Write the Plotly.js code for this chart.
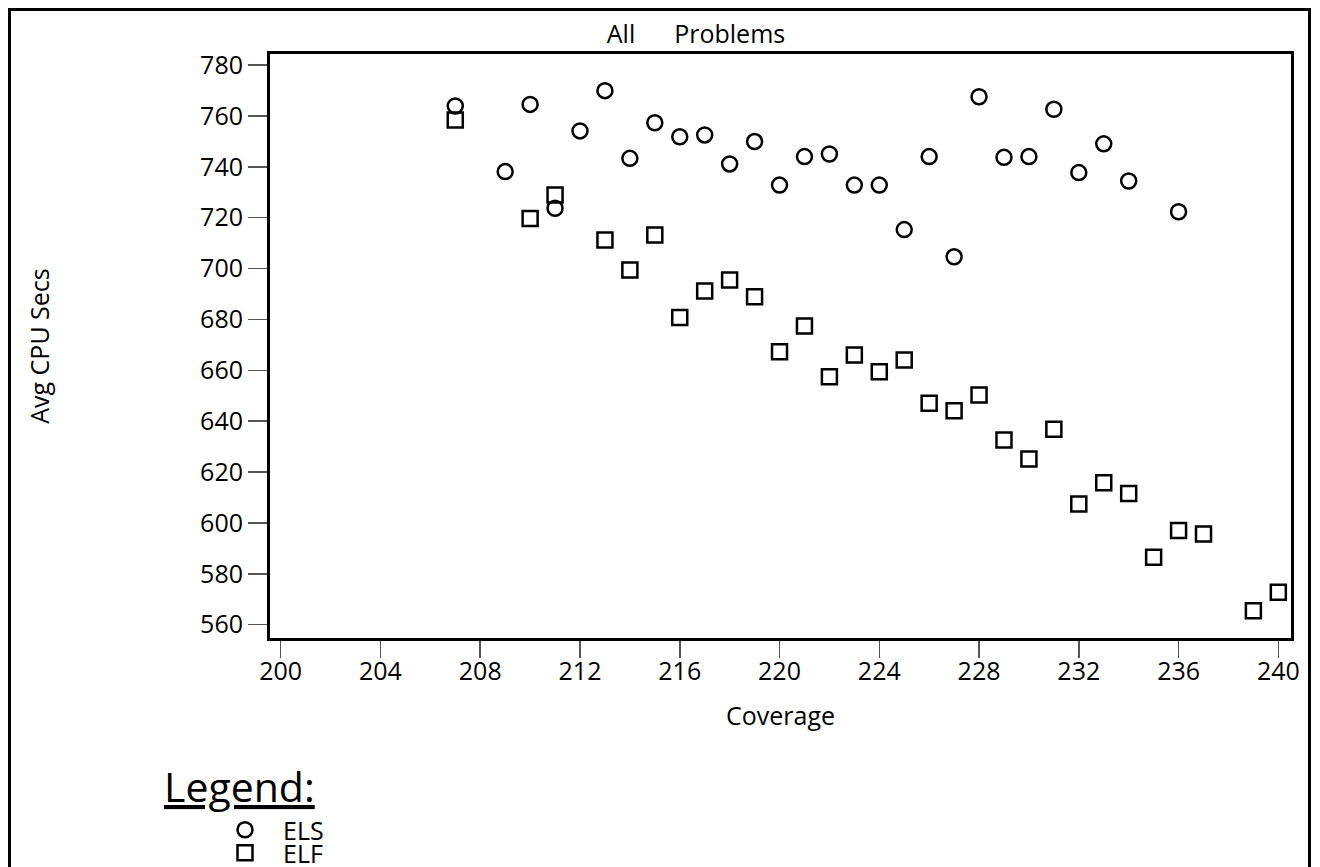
<!DOCTYPE html>
<html>
<head>
<meta charset="utf-8">
<script src="https://cdn.plot.ly/plotly-3.0.1.min.js"></script>
<style>
  html, body { margin: 0; padding: 0; background: #fff; overflow: hidden; }
  #chart { width: 1320px; height: 867px; }
  #frame {
    position: absolute; left: 8px; top: 8px; width: 1297px; height: 900px;
    border: 3px solid #000; pointer-events: none;
  }
</style>
</head>
<body>
<div id="chart"></div>
<div id="frame"></div>
<script>
// Coverage values and average CPU seconds for the two methods
const elsCoverage = [207, 209, 210, 211, 212, 213, 214, 215, 216, 217, 218, 219, 220, 221,
                     222, 223, 224, 225, 226, 227, 228, 229, 230, 231, 232, 233, 234, 236];
const elsCpu      = [763.9, 738.1, 764.5, 723.7, 754.1, 769.9, 743.3, 757.3, 751.8, 752.5,
                     741.1, 749.9, 732.8, 744.0, 745.0, 732.8, 732.8, 715.3, 744.0, 704.6,
                     767.5, 743.7, 744.0, 762.6, 737.7, 749.0, 734.4, 722.3];

const elfCoverage = [207, 210, 211, 213, 214, 215, 216, 217, 218, 219, 220, 221, 222, 223,
                     224, 225, 226, 227, 228, 229, 230, 231, 232, 233, 234, 235, 236, 237,
                     239, 240];
const elfCpu      = [758.4, 719.7, 728.9, 711.2, 699.4, 713.2, 680.7, 691.2, 695.5, 688.9,
                     667.3, 677.4, 657.5, 666.0, 659.4, 664.0, 647.0, 644.1, 650.3, 632.6,
                     625.1, 636.8, 607.4, 615.8, 611.6, 586.5, 597.0, 595.6, 565.5, 572.7];

const xTicks = [200, 204, 208, 212, 216, 220, 224, 228, 232, 236, 240];
const yTicks = [560, 580, 600, 620, 640, 660, 680, 700, 720, 740, 760, 780];

const FONT = 'Open Sans, Liberation Sans, Arial, sans-serif';

// plot area in pixels
const PL = 270, PR = 1291, PT = 54, PB = 638;
const PW = PR - PL, PH = PB - PT;

const markerLine = { color: '#000', width: 2.5 };

const traces = [
  {
    x: elsCoverage, y: elsCpu, name: 'ELS', type: 'scatter', mode: 'markers',
    marker: { symbol: 'circle-open', size: 15, color: '#000', line: markerLine },
    legend: 'legend'
  },
  {
    x: elfCoverage, y: elfCpu, name: 'ELF', type: 'scatter', mode: 'markers',
    marker: { symbol: 'square-open', size: 15, color: '#000', line: markerLine },
    legend: 'legend2'
  }
];

const axisCommon = {
  showgrid: false, zeroline: false,
  showline: true, linecolor: '#000', linewidth: 3, mirror: true,
  ticks: 'outside', ticklen: 19, tickwidth: 1.5, tickcolor: '#555',
  tickfont: { family: FONT, size: 25, color: '#000' }
};

const legendCommon = {
  xref: 'paper', yref: 'paper', xanchor: 'left', yanchor: 'middle',
  font: { family: FONT, size: 25, color: '#000' },
  itemwidth: 66, bgcolor: 'rgba(0,0,0,0)', borderwidth: 0
};

const layout = {
  width: 1320, height: 867,
  margin: { l: PL, r: 1320 - PR, t: PT, b: 867 - PB, autoexpand: false },
  paper_bgcolor: '#fff', plot_bgcolor: '#fff',
  font: { family: FONT, color: '#000' },
  title: {
    text: 'All\u00a0\u00a0\u00a0\u00a0\u00a0\u00a0Problems',
    font: { family: FONT, size: 25, color: '#000' },
    x: 696 / 1320, xanchor: 'center', xref: 'container',
    y: 1 - 34 / 867, yanchor: 'middle', yref: 'container'
  },
  xaxis: Object.assign({}, axisCommon, {
    range: [199.571, 240.508],
    tickvals: xTicks,
    ticklen: 17,
    ticklabelstandoff: -8,
    title: { text: 'Coverage', font: { family: FONT, size: 25, color: '#000' }, standoff: 22 }
  }),
  yaxis: Object.assign({}, axisCommon, {
    range: [554.76, 784.32],
    tickvals: yTicks,
    title: { text: 'Avg CPU Secs', font: { family: FONT, size: 25, color: '#000' }, standoff: 144 }
  }),
  showlegend: true,
  legend: Object.assign({}, legendCommon, { x: (207 - PL) / PW, y: (PB - 830) / PH }),
  legend2: Object.assign({}, legendCommon, { x: (207 - PL) / PW, y: (PB - 853) / PH }),
  annotations: [
    {
      text: '<u>Legend:</u>', showarrow: false,
      xref: 'paper', yref: 'paper',
      x: (162 - PL) / PW, y: (PB - 786) / PH,
      xanchor: 'left', yanchor: 'middle',
      font: { family: FONT, size: 41, color: '#000' }
    }
  ]
};

Plotly.newPlot('chart', traces, layout, { displayModeBar: false, staticPlot: true });
</script>
</body>
</html>
